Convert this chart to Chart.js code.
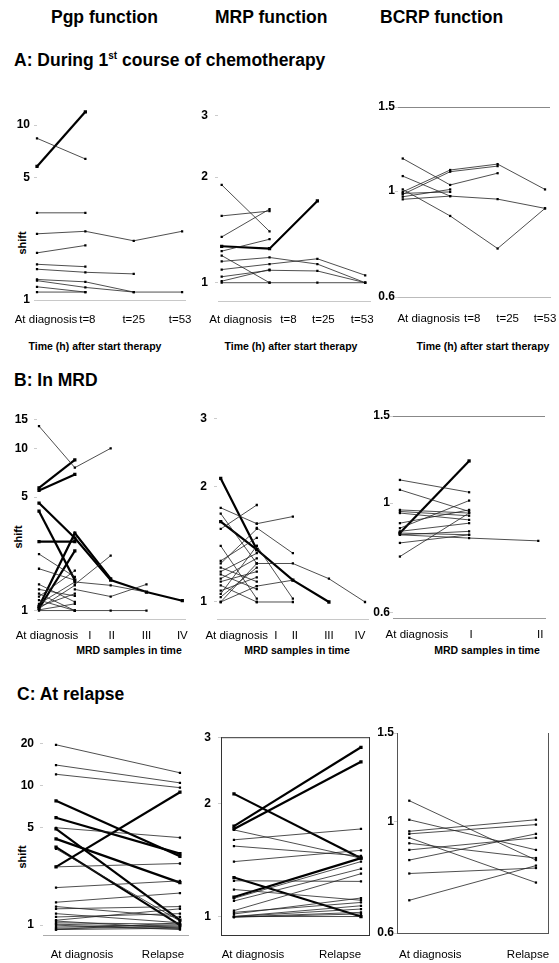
<!DOCTYPE html>
<html>
<head>
<meta charset="utf-8">
<script src="https://cdn.jsdelivr.net/npm/chart.js@4"></script>
<style>
  body { margin: 0; width: 559px; height: 963px; background: #fff; position: relative; overflow: hidden;
         font-family: "Liberation Sans", Arial, sans-serif; color: #000; }
  canvas { position: absolute; }
  .h { position: absolute; white-space: nowrap; color: #000; font: bold 17.5px/20px "Liberation Sans", Arial, sans-serif; }
  .sup { font-size: 10px; position: relative; top: -7px; }
  .at { position: absolute; white-space: nowrap; color: #000; font: bold 10.5px/12px "Liberation Sans", Arial, sans-serif;
        transform: translate(-50%, -50%); }
  .sh { position: absolute; white-space: nowrap; color: #000; font: bold 11px/12px "Liberation Sans", Arial, sans-serif;
        transform: translate(-50%, -50%) rotate(-90deg); }
</style>
</head>
<body>
<div class="h" style="left:51px;top:7px">Pgp function</div>
<div class="h" style="left:215px;top:7px">MRP function</div>
<div class="h" style="left:380px;top:7px">BCRP function</div>

<div class="h" style="left:14px;top:50px">A: During 1<span class="sup">st</span> course of chemotherapy</div>
<div class="h" style="left:14px;top:370px">B: In MRD</div>
<div class="h" style="left:17px;top:684px">C: At relapse</div>

<div class="sh" style="left:22px;top:243px">shift</div>
<div class="sh" style="left:18px;top:537px">shift</div>
<div class="sh" style="left:22px;top:857px">shift</div>

<div class="at" style="left:95px;top:346px">Time (h) after start therapy</div>
<div class="at" style="left:291px;top:346px">Time (h) after start therapy</div>
<div class="at" style="left:483px;top:346px">Time (h) after start therapy</div>
<div class="at" style="left:129px;top:650px">MRD samples in time</div>
<div class="at" style="left:297px;top:650px">MRD samples in time</div>
<div class="at" style="left:487px;top:650px">MRD samples in time</div>

<canvas id="pgpA"></canvas>
<canvas id="mrpA"></canvas>
<canvas id="bcrpA"></canvas>
<canvas id="pgpB"></canvas>
<canvas id="mrpB"></canvas>
<canvas id="bcrpB"></canvas>
<canvas id="pgpC"></canvas>
<canvas id="mrpC"></canvas>
<canvas id="bcrpC"></canvas>

<script>
// categories
const timeCats = ["At diagnosis", "t=8", "t=25", "t=53"];
const mrdCats5 = ["At diagnosis", "I", "II", "III", "IV"];
const mrdCats3 = ["At diagnosis", "I", "II"];
const relapseCats = ["At diagnosis", "Relapse"];

// tick labels
const pgpTicksA = [1, 5, 10];
const pgpTicksB = [1, 5, 10, 15];
const pgpTicksC = [1, 5, 10, 20];
const mrpTicks = [1, 2, 3];
const bcrpTicks = [0.6, 1, 1.5];

// A: during 1st course (shift per patient, null = no sample)
const pgpA_bold = [[5.8, 11.9]];
const pgpA_thin = [
  [8.4, 6.4], [3.15, 3.15], [2.39, 2.47, 2.18, 2.47], [1.86, 2.05], [1.60, 1.55],
  [1.50, 1.44, 1.41], [1.31, 1.27, 1.11, 1.11], [1.29, 1.18, 1.11], [1.19, 1.11], [1.11, 1.11]
];
const mrpA_bold = [[1.27, 1.25, 1.71]];
const mrpA_thin = [
  [1.90, 1.40], [1.55, 1.60], [1.35, 1.62], [1.23, 1.33], [1.195, 1.0],
  [1.15, 1.18, 1.13, 1.0], [1.09, 1.13, 1.17, 1.05], [1.04, 1.085, 1.08, 1.0],
  [1.01, 1.09], [1.0, 1.0, 1.0, 1.0]
];
const bcrpA_bold = [];
const bcrpA_thin = [
  [1.17, 1.03, 1.09], [1.075, 0.976, 0.962, 0.92], [0.996, 1.107, 1.139, 1.008],
  [0.984, 1.098, 1.128], [0.973, 1.008], [0.961, 0.976], [1.008, 0.887, 0.758, 0.92], [0.989, 0.996]
];

// B: in MRD
const pgpB_bold = [
  [5.7, 8.5], [5.5, 6.9], [4.6, 2.8, 1.54, 1.30, 1.15], [4.1, 1.54],
  [2.66, 2.66], [1.06, 3.0, 1.57], [1.03, 2.33]
];
const pgpB_thin = [
  [13.7, 7.6, 10], [2.23, 1.61], [1.81, 1.54], [1.45, 1.13], [1.35, 1.23], [1.27, 1.0],
  [1.22, 1.76], [1.16, 1.0], [1.10, 1.50], [1.06, 1.27], [1.03, 1.43], [1.01, 1.10], [1.0, 1.0],
  [null, 1.45, 2.18], [null, 1.50, 1.43, 1.30], [null, 1.35, 1.22, 1.45], [null, 1.0, 1.0, 1.0]
];
const mrpB_bold = [[2.10, 1.37, 1.14, 1.0], [1.62, 1.37]];
const mrpB_thin = [
  [1.76, 1.60], [1.70, 1.26], [1.55, 1.79], [1.40, 1.02], [1.28, 1.47], [1.26, 1.55],
  [1.23, 1.13], [1.20, 1.34], [1.18, 1.08], [1.15, 1.30], [1.13, 1.20], [1.105, 1.0],
  [1.07, 1.16], [1.05, 1.40], [1.03, 1.23], [1.0, 1.10], [1.0, 1.26],
  [null, 1.60, 1.67], [null, 1.56, 1.34], [null, 1.26, 1.26, 1.15, 1.0],
  [null, 1.10, 1.14], [null, 1.40, 1.02], [null, 1.0, 1.0]
];
const bcrpB_bold = [[0.87, 1.217]];
const bcrpB_thin = [
  [1.114, 1.052], [1.064, 0.962], [0.969, 0.955], [0.962, 0.943], [0.955, 0.925],
  [0.911, 0.969], [0.890, 1.012], [0.877, 0.911], [0.870, 0.863], [0.863, 0.850, 0.839],
  [0.831, 0.863], [0.780, 0.955], [0.863, 0.877]
];

// C: at relapse
const pgpC_bold = [[7.8, 3.12], [5.9, 3.26], [4.9, 1.085], [4.16, 2.02], [3.63, 1.0], [2.62, 9.0]];
const pgpC_thin = [
  [19.7, 12.4], [14.1, 10.5], [12.1, 9.7], [5.0, 4.25], [3.53, 1.07], [2.62, 2.77],
  [1.86, 2.08], [1.46, 1.70], [1.36, 1.145], [1.31, 1.36], [1.21, 1.04], [1.145, 1.21],
  [1.085, 1.31], [1.07, 0.95], [1.04, 1.016], [1.016, 0.97], [1.0, 0.93], [0.97, 1.0],
  [0.95, 0.97], [0.93, 0.95], [0.93, 1.04]
];
const mrpC_bold = [[2.12, 1.43], [1.74, 2.82], [1.71, 2.58], [1.27, 1.0], [1.127, 1.43]];
const mrpC_thin = [
  [1.70, 1.43], [1.60, 1.71], [1.54, 1.45], [1.40, 1.50], [1.245, 1.24], [1.18, 1.105],
  [1.118, 1.40], [1.10, 1.34], [1.037, 1.30], [1.026, 1.09], [1.016, 1.12], [1.0, 1.068],
  [1.0, 1.047], [0.997, 1.026], [0.996, 1.016], [1.0, 1.0]
];
const bcrpC_bold = [];
const bcrpC_thin = [
  [1.10, 0.838], [1.008, 0.878], [0.956, 1.008], [0.945, 0.986], [0.928, 0.756],
  [0.905, 0.846], [0.878, 0.928], [0.838, 0.945], [0.788, 0.808], [0.697, 0.817]
];

Chart.defaults.font.family = '"Liberation Sans", Arial, sans-serif';
Chart.defaults.color = "#000";

// draws the plot box sides some panels have
const framePlugin = {
  id: "frame",
  afterDraw(chart, args, opts) {
    if (!opts.sides) return;
    const { ctx, chartArea: a } = chart;
    ctx.save();
    ctx.strokeStyle = opts.color;
    ctx.lineWidth = 1;
    ctx.beginPath();
    if (opts.sides.includes("t")) { ctx.moveTo(a.left, a.top + 0.5); ctx.lineTo(a.right, a.top + 0.5); }
    if (opts.sides.includes("b")) { ctx.moveTo(a.left, a.bottom + 0.5); ctx.lineTo(a.right, a.bottom + 0.5); }
    if (opts.sides.includes("l")) { ctx.moveTo(a.left + 0.5, a.top); ctx.lineTo(a.left + 0.5, a.bottom + 1); }
    if (opts.sides.includes("r")) { ctx.moveTo(a.right - 0.5, a.top); ctx.lineTo(a.right - 0.5, a.bottom + 1); }
    ctx.stroke();
    ctx.restore();
  },
};

function toPoints(arr) {
  return arr.map((y, i) => ({ x: i, y })).filter((p) => p.y !== null);
}

function panel(id, box, cats, ticks, thin, bold, look) {
  const YW = 40, XH = 30, PT = 10, PR = 24;
  const cv = document.getElementById(id);
  const left = box.L - YW, top = box.T - PT;
  cv.width = box.R - left + PR;
  cv.height = box.B - top + XH;
  cv.style.left = left + "px";
  cv.style.top = top + "px";
  // pixels per category step, used to nudge the labels like the original layout
  const ppu = (box.R - box.L) / (box.xmax - box.xmin);

  const datasets = [];
  thin.forEach((s) => datasets.push({
    data: toPoints(s), borderColor: "#222", borderWidth: 0.8,
    pointRadius: 1.6, pointStyle: "rect", pointBackgroundColor: "#000", pointBorderWidth: 0,
  }));
  bold.forEach((s) => datasets.push({
    data: toPoints(s), borderColor: "#000", borderWidth: 2.2,
    pointRadius: 2.3, pointStyle: "rect", pointBackgroundColor: "#000", pointBorderWidth: 0,
  }));
  datasets.forEach((d) => { d.clip = 8; d.tension = 0; d.fill = false; });

  new Chart(cv, {
    type: "line",
    data: { datasets },
    plugins: [framePlugin],
    options: {
      responsive: false,
      animation: false,
      devicePixelRatio: 1,
      layout: { padding: { top: PT, right: PR, left: 0, bottom: 0 } },
      plugins: {
        legend: { display: false },
        tooltip: { enabled: false },
        frame: look.frame || {},
      },
      scales: {
        x: {
          type: "linear",
          min: box.xmin,
          max: box.xmax,
          afterBuildTicks: (s) => {
            s.ticks = cats.map((c, i) => ({ value: i + (look.shift[i] || 0) / ppu }));
          },
          afterFit: (s) => { s.height = XH; },
          ticks: {
            callback: (v, i) => cats[i],
            autoSkip: false, maxRotation: 0, minRotation: 0,
            padding: look.xPad, font: { size: 11.5 }, color: "#000",
          },
          grid: { display: false, drawTicks: false, tickLength: 0 },
          border: look.xBorder
            ? { display: true, color: look.xBorder.color, dash: look.xBorder.dash || [] }
            : { display: false },
        },
        y: {
          type: "logarithmic",
          min: box.ymin,
          max: box.ymax,
          afterBuildTicks: (s) => { s.ticks = ticks.map((v) => ({ value: v })); },
          afterFit: (s) => { s.width = YW; },
          ticks: {
            callback: (v) => String(v),
            padding: look.gap - 3, font: { size: 12, weight: "bold" }, color: "#000",
          },
          grid: {
            drawOnChartArea: !!look.grid15,
            drawTicks: true,
            tickLength: 3,
            tickColor: "#ccc",
            color: (c) => (c.tick && c.tick.value === 1.5 ? "#888" : "rgba(0,0,0,0)"),
          },
          border: { display: false },
        },
      },
    },
  });
}

// row A
panel("pgpA", { L: 37, T: 110, R: 185, B: 300, ymin: 1, ymax: 12, xmin: 0, xmax: 3.06 },
  timeCats, pgpTicksA, pgpA_thin, pgpA_bold,
  { gap: 7, xPad: 13, shift: [9, 2, 0, -2], xBorder: { color: "#c8c8c8" } });
panel("mrpA", { L: 218, T: 110, R: 370, B: 301, ymin: 0.887, ymax: 3.02, xmin: -0.077, xmax: 3.1 },
  timeCats, mrpTicks, mrpA_thin, mrpA_bold,
  { gap: 10, xPad: 12, shift: [19, 19, 6, -3], xBorder: { color: "#c8c8c8" } });
panel("bcrpA", { L: 398, T: 107, R: 550, B: 297, ymin: 0.6, ymax: 1.5, xmin: -0.1, xmax: 3.105 },
  timeCats, bcrpTicks, bcrpA_thin, bcrpA_bold,
  { gap: 3, xPad: 15, shift: [26, 22, 10, 0], grid15: true, xBorder: { color: "#bbb", dash: [1, 3] } });

// row B
panel("pgpB", { L: 37, T: 412, R: 185, B: 619, ymin: 0.887, ymax: 16, xmin: -0.056, xmax: 4.075 },
  mrdCats5, pgpTicksB, pgpB_thin, pgpB_bold,
  { gap: 9, xPad: 10, shift: [8, 15, 1, 0, 0], xBorder: { color: "#c8c8c8" } });
panel("mrpB", { L: 217, T: 412, R: 368, B: 619, ymin: 0.903, ymax: 3.05, xmin: -0.103, xmax: 4.083 },
  mrdCats5, mrpTicks, mrpB_thin, mrpB_bold,
  { gap: 10, xPad: 10, shift: [16, 19, 2, 0, -5], xBorder: { color: "#c8c8c8" } });
panel("bcrpB", { L: 393, T: 416, R: 545, B: 618, ymin: 0.586, ymax: 1.5, xmin: -0.1, xmax: 2.097 },
  mrdCats3, bcrpTicks, bcrpB_thin, bcrpB_bold,
  { gap: 3, xPad: 10, shift: [17, 2, 2], grid15: true, xBorder: { color: "#999" } });

// row C
panel("pgpC", { L: 43, T: 733, R: 188, B: 935, ymin: 0.85, ymax: 22.7, xmin: -0.105, xmax: 1.065 },
  relapseCats, pgpTicksC, pgpC_thin, pgpC_bold,
  { gap: 9, xPad: 13, shift: [26, -17], xBorder: { color: "#aaa" } });
panel("mrpC", { L: 221, T: 733, R: 370, B: 935, ymin: 0.893, ymax: 3.0, xmin: -0.102, xmax: 1.071 },
  relapseCats, mrpTicks, mrpC_thin, mrpC_bold,
  { gap: 10, xPad: 13, shift: [19, -21], frame: { sides: "tblr", color: "#333" } });
panel("bcrpC", { L: 397, T: 733, R: 549, B: 933, ymin: 0.6, ymax: 1.5, xmin: -0.097, xmax: 1.103 },
  relapseCats, bcrpTicks, bcrpC_thin, bcrpC_bold,
  { gap: 3, xPad: 15, shift: [21, -8], frame: { sides: "blr", color: "#555" } });
</script>
</body>
</html>
